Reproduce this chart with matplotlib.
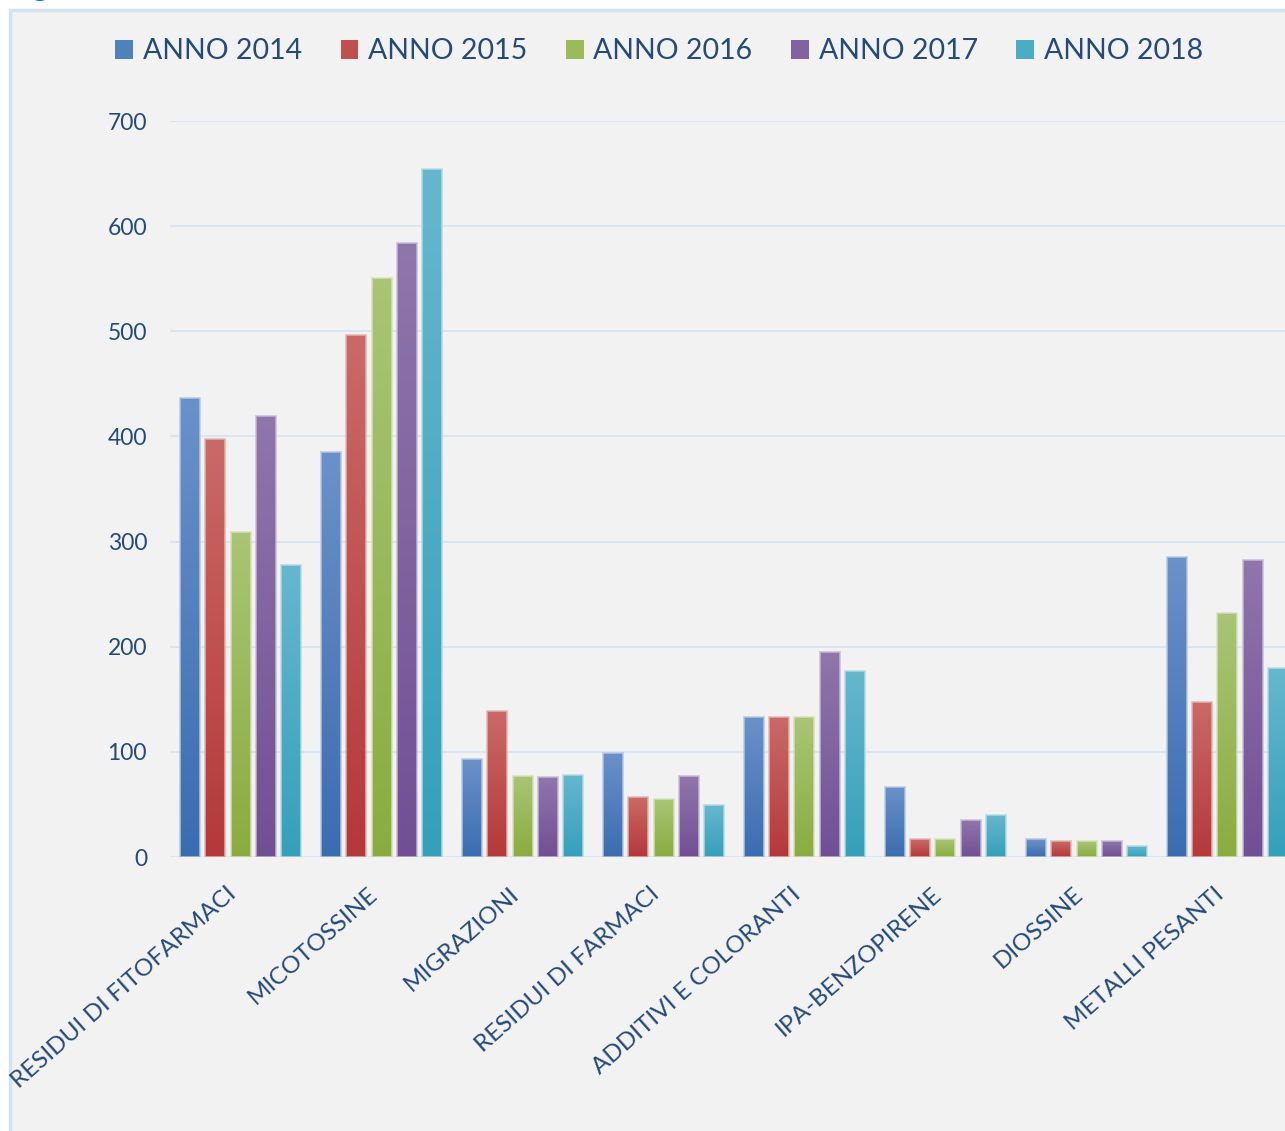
import numpy as np
import matplotlib
matplotlib.use("Agg")
import matplotlib.pyplot as plt
from matplotlib.colors import LinearSegmentedColormap, to_rgb
from matplotlib.patches import Rectangle

categories = ["RESIDUI DI FITOFARMACI", "MICOTOSSINE", "MIGRAZIONI", "RESIDUI DI FARMACI",
              "ADDITIVI E COLORANTI", "IPA-BENZOPIRENE", "DIOSSINE", "METALLI PESANTI"]
series_names = ["ANNO 2014", "ANNO 2015", "ANNO 2016", "ANNO 2017", "ANNO 2018"]
anno_2014 = [437, 385, 93, 99, 133, 67, 17, 285]
anno_2015 = [398, 496, 139, 57, 133, 17, 15, 147]
anno_2016 = [309, 551, 77, 55, 133, 17, 15, 232]
anno_2017 = [419, 584, 76, 77, 195, 35, 15, 282]
anno_2018 = [278, 654, 78, 49, 177, 40, 10, 180]
yticks = [0, 100, 200, 300, 400, 500, 600, 700]

series = [anno_2014, anno_2015, anno_2016, anno_2017, anno_2018]
top_cols = ["#6b91c9", "#ca6a66", "#a9c575", "#8f76ab", "#66b7ce"]
bot_cols = ["#3a6db0", "#b5383a", "#8aac3f", "#714f95", "#35a0ba"]
mid_cols = ["#4f81bd", "#c0504d", "#9bbb59", "#8064a2", "#4bacc6"]
text_col = "#244a7a"

plt.rcParams['font.family'] = ['Lato', 'DejaVu Sans']

W, H = 1285, 1131
fig = plt.figure(figsize=(W / 100, H / 100), dpi=100)
fig.patch.set_facecolor("white")

# chart area background with border
fig.patches.append(Rectangle((10 / W, -0.01), 1.0, (H - 10) / H + 0.01, transform=fig.transFigure,
                             facecolor="#f2f2f2", edgecolor="#d5e1ef", linewidth=2.5, zorder=-10))
# cut-off title above the chart
fig.text(8 / W, 1 + 4 / H, "Figura", color="#0070c0", fontsize=22, fontweight="bold",
         va="baseline", ha="left")

x0 = 170 / W
ax = fig.add_axes([x0, (H - 857) / H, 1 - x0, (857 - 121) / H])
ax.set_zorder(2)
ax.set_facecolor("none")

n = len(series)
pitch = 25.25 / 141
bw = 20 / 141
x = np.arange(len(categories))
for i, vals in enumerate(series):
    offs = (i - (n - 1) / 2) * pitch
    bars = ax.bar(x + offs, vals, width=bw, color=mid_cols[i], edgecolor="none", zorder=2,
                  label=series_names[i])
    cmap = LinearSegmentedColormap.from_list("g%d" % i, [bot_cols[i], top_cols[i]])
    grad = np.linspace(0, 1, 256).reshape(-1, 1)
    for p in bars.patches:
        bx, bwid, bh = p.get_x(), p.get_width(), p.get_height()
        im = ax.imshow(grad, extent=[bx, bx + bwid, 0, bh], origin="lower", cmap=cmap,
                       aspect="auto", zorder=2.5, interpolation="bilinear")
        im.set_clip_path(p)
        ax.add_patch(Rectangle((bx, 0), bwid, bh, facecolor="none",
                               edgecolor=(*[min(1, c * 0.5 + 0.5) for c in to_rgb(top_cols[i])], 0.8),
                               linewidth=1.3, zorder=3))

ax.set_xlim(-0.5, (W - 240.5) / 141)
ax.set_ylim(0, 700)
ax.set_yticks(yticks)
ax.set_yticklabels([str(v) for v in yticks])
ax.yaxis.grid(True, color="#d7e3f1", linewidth=1.3)
ax.set_axisbelow(True)
for s in ax.spines.values():
    s.set_visible(False)
ax.tick_params(axis="y", length=0, pad=16.5, labelsize=16.5, labelcolor=text_col)
ax.set_xticks(x)
ax.set_xticklabels(categories, rotation=41.5, ha="right", va="top", rotation_mode="default",
                   fontsize=17.5, color=text_col)
ax.tick_params(axis="x", length=0, pad=19)

leg = fig.legend(loc="upper left", bbox_to_anchor=(104 / W, 1 - 27 / H), ncol=5, frameon=False,
                 fontsize=20.5, handlelength=0.62, handleheight=0.62, handletextpad=0.35,
                 columnspacing=1.35, labelcolor=text_col, borderaxespad=0)

fig.savefig("out.png", dpi=100, facecolor=fig.get_facecolor())
